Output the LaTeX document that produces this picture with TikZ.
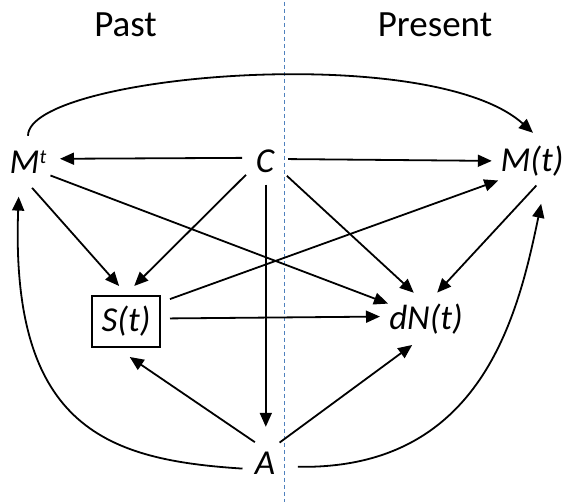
\documentclass[tikz,border=0pt]{standalone}
\usepackage{fontspec}
\setmainfont{Carlito}
\usetikzlibrary{arrows.meta,shapes.geometric}
\definecolor{dashblue}{RGB}{79,129,189}
\begin{document}
\begin{tikzpicture}[x=1pt,y=-1pt,
  arr/.style={line width=1.8pt,-{Triangle[length=14pt,width=12pt]}},
  spot/.style={circle,inner sep=0pt,minimum size=#1},
  oval/.style={ellipse,inner sep=0pt,minimum width=92pt,minimum height=54pt},
  nodefont/.style={font=\fontsize{35}{41}\selectfont\itshape},
  every label/.style={nodefont,inner sep=0pt},
  titletext/.style={font=\fontsize{37}{44}\selectfont,anchor=base},
  sbox/.style={draw,line width=1.7pt,minimum width=68pt,minimum height=51pt,
    outer sep=10pt,inner sep=0pt,nodefont},
  dashline/.style={draw=dashblue,line width=1pt,dash pattern=on 4pt off 3pt}]
\useasboundingbox (0,0) rectangle (563,502);
% divider
\draw[dashline] (284,2) -- (284,502);
% titles
\node[titletext] (past) at (125.5,37) {Past};
\node[titletext] (present) at (435,37) {Present};
% nodes
\node[spot=52pt,label={center:{M\raisebox{10pt}{\fontsize{20}{20}\selectfont t}}}] (Mt) at (28,162) {};
\node[spot=46pt,label={center:{C}}] (C) at (265,161.5) {};
\node[spot=56pt,label={center:{M(t)}}] (Mtt) at (532,161) {};
\node[sbox] (S) at (126,321.5) {S(t)};
\node[oval,label={center:{dN(t)}}] (dN) at (426,319) {};
\node[spot=46pt,label={center:{A}}] (A) at (265,463) {};
% connectors
\draw[arr,shorten >=6pt] (C.171) -- (Mt.7);
\draw[arr,shorten >=12pt] (C.6.5) -- (Mtt.180);
\draw[arr] (Mt.90) .. controls (28,75) and (430,40) .. (Mtt.88);
\draw[arr] (Mt.279) -- (S.101.5);
\draw[arr] (Mt.329) -- (dN.158);
\draw[arr] (C.215) -- (S.77);
\draw[arr,shorten >=13pt] (C.272) -- (A.88);
\draw[arr,shorten <=3pt] (C.328.5) -- (dN.115.7);
\draw[arr,shorten >=11pt] (S.27.5) -- (Mtt.214.5);
\draw[arr] (S.4.5) -- (dN.177.5);
\draw[arr,shorten <=-5pt] (Mtt.272.5) -- (dN.67);
\draw[arr] (A.116.6) -- (S.276.4);
\draw[arr,shorten <=2pt] (A.56.3) -- (dN.242.5);
\draw[arr,shorten >=10pt] (A.194) .. controls (110,460) and (10,430) .. (Mt.250);
\draw[arr,shorten <=10pt,shorten >=18pt] (A.351.4) .. controls (482,470) and (518,315) .. (Mtt.297);
\end{tikzpicture}
\end{document}
